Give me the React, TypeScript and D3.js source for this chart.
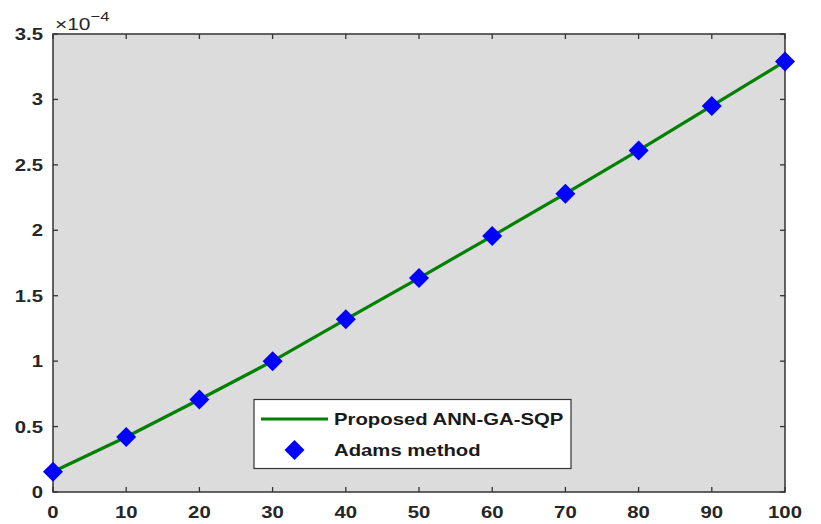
import React from "react";
import * as d3 from "d3";

// Sample points (x) and solution values (in units of 1e-4)
const xs = [0, 10, 20, 30, 40, 50, 60, 70, 80, 90, 100];
const annValues = [0.155, 0.42, 0.707, 1.0, 1.32, 1.635, 1.956, 2.28, 2.61, 2.95, 3.29];
const adamsValues = [0.155, 0.42, 0.707, 1.0, 1.32, 1.635, 1.956, 2.28, 2.61, 2.95, 3.29];
const xTicks = [0, 10, 20, 30, 40, 50, 60, 70, 80, 90, 100];
const yTicks = [0, 0.5, 1, 1.5, 2, 2.5, 3, 3.5];
const seriesNames = ["Proposed ANN-GA-SQP", "Adams method"];

const W = 821;
const H = 524;
const M = { left: 53, top: 34, right: 785, bottom: 492 };
const FONT = "'Liberation Sans', Arial, Helvetica, sans-serif";
const AXIS = "#333333";
const SX = 1.27; // horizontal stretch of all text

function Label(props: {
  x: number;
  y: number;
  anchor?: "start" | "middle" | "end";
  size: number;
  bold?: boolean;
  fill?: string;
  children: React.ReactNode;
}) {
  return (
    <text
      transform={`translate(${props.x},${props.y}) scale(${SX},1)`}
      textAnchor={props.anchor || "start"}
      fontFamily={FONT}
      fontWeight={props.bold ? "bold" : "normal"}
      fontSize={props.size}
      fill={props.fill || "#262626"}
    >
      {props.children}
    </text>
  );
}

export default function App() {
  const x = d3.scaleLinear().domain([0, 100]).range([M.left, M.right]);
  const y = d3.scaleLinear().domain([0, 3.5]).range([M.bottom, M.top]);
  const line = d3
    .line<number>()
    .x((_, i) => x(xs[i]))
    .y((d) => y(d));
  const diamond = (cx: number, cy: number, r: number) =>
    `M${cx},${cy - r}L${cx + r},${cy}L${cx},${cy + r}L${cx - r},${cy}Z`;
  const tickLen = 5;

  return (
    <svg
      width={W}
      height={H}
      style={{ position: "absolute", left: 0, top: 0, background: "#ffffff" }}
    >
      <rect
        x={M.left}
        y={M.top}
        width={M.right - M.left}
        height={M.bottom - M.top}
        fill="#dcdcdc"
      />
      {/* ticks on all four sides, pointing inward */}
      {xTicks.map((t) => (
        <g key={"xt" + t}>
          <line x1={x(t)} x2={x(t)} y1={M.bottom} y2={M.bottom - tickLen} stroke={AXIS} strokeWidth={1.3} />
          <line x1={x(t)} x2={x(t)} y1={M.top} y2={M.top + tickLen} stroke={AXIS} strokeWidth={1.3} />
          <Label x={x(t)} y={518} anchor="middle" size={16} bold>
            {t}
          </Label>
        </g>
      ))}
      {yTicks.map((t) => (
        <g key={"yt" + t}>
          <line x1={M.left} x2={M.left + tickLen} y1={y(t)} y2={y(t)} stroke={AXIS} strokeWidth={1.3} />
          <line x1={M.right} x2={M.right - tickLen} y1={y(t)} y2={y(t)} stroke={AXIS} strokeWidth={1.3} />
          <Label x={43} y={y(t) + 6} anchor="end" size={16} bold>
            {t}
          </Label>
        </g>
      ))}
      <rect
        x={M.left}
        y={M.top}
        width={M.right - M.left}
        height={M.bottom - M.top}
        fill="none"
        stroke={AXIS}
        strokeWidth={1.5}
      />
      {/* exponent label */}
      <Label x={55} y={30} size={16.5}>
        ×10
        <tspan dy={-9} fontSize={13}>−4</tspan>
      </Label>

      <path d={line(annValues) || ""} fill="none" stroke="#008000" strokeWidth={3.2} />
      {adamsValues.map((v, i) => (
        <path key={"m" + i} d={diamond(x(xs[i]), y(v), 10)} fill="#0000ff" />
      ))}

      {/* legend */}
      <rect x={254} y={399.5} width={317} height={69} fill="#ffffff" stroke={AXIS} strokeWidth={1.2} />
      <line x1={261} x2={328} y1={419} y2={419} stroke="#008000" strokeWidth={3.2} />
      <Label x={334} y={424.5} size={16} bold fill="#1a1a1a">
        {seriesNames[0]}
      </Label>
      <path d={diamond(294.5, 450, 10)} fill="#0000ff" />
      <Label x={334} y={455.5} size={16} bold fill="#1a1a1a">
        {seriesNames[1]}
      </Label>
    </svg>
  );
}
